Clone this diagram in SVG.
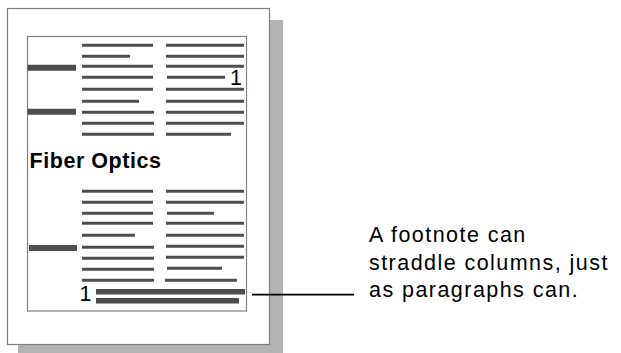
<svg xmlns="http://www.w3.org/2000/svg" width="621" height="353" viewBox="0 0 621 353">
<style>
.ln{stroke:#4d4d4d;stroke-width:3;fill:none}
.hd{stroke:#4d4d4d;stroke-width:6;fill:none}
.fn{stroke:#4d4d4d;stroke-width:5.5;fill:none}
.lbl{font-family:"Liberation Sans",Arial,sans-serif;font-size:21.5px;letter-spacing:1.45px;fill:#000}
.num{font-family:"Liberation Sans",Arial,sans-serif;font-size:21.5px;fill:#000}
</style>
<rect width="621" height="353" fill="#fff"/>
<g id="page">
<rect x="18" y="20" width="265" height="333" fill="#b3b3b3"/>
<rect x="7.5" y="8.5" width="262" height="336" fill="#fff" stroke="#808080" stroke-width="1.2"/>
<rect x="27.5" y="36.5" width="219" height="274.5" fill="#fff" stroke="#808080" stroke-width="1.2"/>
</g>
<g id="top-columns">
<path class="hd" d="M27.5 67.7H76M27.5 111.8H76"/>
<path class="ln" d="M82 45.3H153M82 56.3H130M82 66.3H153M82 77.3H153M82 89.3H153M82 101.3H139M82 112.3H154M82 123.3H154M82 134.3H154"/>
<path class="ln" d="M166 45.3H244M166 56.3H244M166 66.3H244M167 77.3H225M166 89.3H244M166 101.3H244M166 112.3H244M166 123.3H244M166 134.3H231"/>
<text class="num" x="230" y="84.5">1</text>
</g>
<g id="heading">
<text x="29.5" y="167.7" font-family="Liberation Sans,Arial,sans-serif" font-size="21.5" font-weight="bold" letter-spacing="0.55" fill="#000">Fiber Optics</text>
</g>
<g id="bottom-columns">
<path class="hd" d="M29 248H77"/>
<path class="ln" d="M82 191.3H153M82 202.3H153M82 213.3H153M82 223.3H153M82 235.3H135M82 247.3H154M82 258.3H154M82 269.3H154M82 280.3H154"/>
<path class="ln" d="M166 191.3H244M166 202.3H244M167 213.3H214M166 223.3H244M166 235.3H244M166 246.3H244M166 257.3H244M167 268.3H222M165 280.3H237"/>
</g>
<g id="footnote">
<text class="num" x="79.5" y="301">1</text>
<path class="fn" d="M96 291.8H245M96 300.8H239"/>
</g>
<g id="connectors">
<path d="M252 294.7H354" stroke="#000" stroke-width="1.8" fill="none"/>
</g>
<g id="callout">
<text class="lbl" x="369" y="241.5">A footnote can</text>
<text class="lbl" x="369" y="269.5">straddle columns, just</text>
<text class="lbl" x="369" y="297">as paragraphs can.</text>
</g>
</svg>
